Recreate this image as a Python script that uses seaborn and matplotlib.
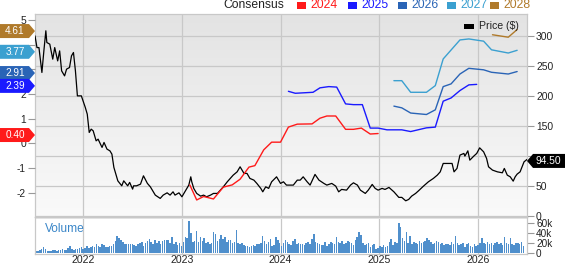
import numpy as np
import pandas as pd
import matplotlib
matplotlib.use("Agg")
import matplotlib.pyplot as plt
import seaborn as sns
from matplotlib.patches import Polygon, Rectangle
from matplotlib.colors import LinearSegmentedColormap

# ---------------- data ----------------
price_dates = [
    2021.51, 2021.53, 2021.55, 2021.58, 2021.60, 2021.62, 2021.63, 2021.66, 2021.69, 2021.71,
    2021.74, 2021.76, 2021.78, 2021.81, 2021.83, 2021.86, 2021.88, 2021.90, 2021.92, 2021.94,
    2021.98, 2022.02, 2022.04, 2022.06, 2022.08, 2022.10, 2022.13, 2022.15, 2022.19, 2022.21,
    2022.24, 2022.27, 2022.29, 2022.31, 2022.35, 2022.39, 2022.41, 2022.45, 2022.47, 2022.50,
    2022.51, 2022.54, 2022.58, 2022.61,
    2022.65, 2022.68, 2022.73, 2022.78, 2022.81, 2022.85, 2022.88, 2022.91, 2022.93, 2022.97,
    2023.00, 2023.03, 2023.07, 2023.09, 2023.10, 2023.12, 2023.15, 2023.19, 2023.22, 2023.25,
    2023.29, 2023.32, 2023.36, 2023.39, 2023.42, 2023.46, 2023.49, 2023.52, 2023.56, 2023.59,
    2023.63, 2023.66, 2023.69, 2023.73, 2023.76,
    2023.80, 2023.82, 2023.85, 2023.88, 2023.91, 2023.96, 2024.00, 2024.03, 2024.06, 2024.10,
    2024.13, 2024.17, 2024.20, 2024.23, 2024.27, 2024.30, 2024.35, 2024.39, 2024.44, 2024.47,
    2024.52, 2024.56, 2024.59, 2024.62, 2024.67, 2024.71, 2024.74, 2024.78, 2024.81, 2024.86,
    2024.89, 2024.93, 2024.96, 2024.99, 2025.03, 2025.06, 2025.10,
    2025.15, 2025.20, 2025.23, 2025.27, 2025.30, 2025.33, 2025.37, 2025.40, 2025.45, 2025.50,
    2025.55, 2025.59, 2025.62, 2025.65, 2025.69, 2025.74, 2025.76, 2025.79, 2025.82, 2025.86,
    2025.87, 2025.90, 2025.92, 2025.96, 2025.99, 2026.02, 2026.06, 2026.09, 2026.11, 2026.15,
    2026.20, 2026.25, 2026.27, 2026.30, 2026.33, 2026.36, 2026.38, 2026.40, 2026.43, 2026.47,
    2026.50,
]
price_values = [
    300.5, 281, 281, 239.5, 275.5, 309, 289.5, 286.7, 261.7, 281,
    258.8, 275.5, 242.2, 233.8, 245, 247.8, 267.2, 272.8, 242.2, 200.5,
    200.5, 181.2, 170, 139.5, 145, 142.2, 125.5, 128.3, 114.5, 122.8,
    111.7, 108.8, 103.3, 81.2, 58.8, 50.5, 58.8, 50.5, 56.2, 45,
    50.5, 50.5, 53.3, 67.2,
    54.5, 48.8, 35, 29.5, 35, 38.8, 35, 40.5, 35, 38.8,
    32.2, 40.5, 51.7, 65.5, 57.2, 46.2, 37.8, 33.3, 35, 32.2,
    35, 37.8, 37.8, 43.3, 48.8, 57.2, 62.8, 68.3, 73.8, 82.2,
    71.2, 71.2, 62.8, 60, 54.5,
    46.2, 40.5, 48.8, 46.2, 57.2, 65.5, 54.5, 57.2, 51.7, 51.7,
    51.7, 60, 60, 65.5, 57.2, 51.7, 69.5, 60, 54.5, 51.7,
    54.5, 50, 40.5, 44.5, 43.3, 51.7, 55.5, 51.7, 43.3, 37.8,
    43.3, 52.8, 46.2, 43.3, 46.2, 44.5, 47.8,
    40.5, 31.2, 31.2, 25.5, 27.8, 33.3, 37.8, 42.2, 50, 57.2,
    62.8, 68.3, 73.8, 87.8, 87.8, 87.8, 73.8, 79.5, 101.7, 104.5,
    100, 108.8, 93.3, 100, 104.5, 113.8, 107.2, 96.2, 82.2, 76.7,
    73.8, 72.2, 79.5, 68.3, 65.5, 58.3, 65.5, 70, 73.8, 90.5,
    94.5,
]

c2024_t = [2023.08, 2023.15, 2023.22, 2023.32, 2023.42, 2023.51, 2023.59, 2023.68, 2023.74, 2023.83,
           2023.91, 2024.00, 2024.08, 2024.17, 2024.32, 2024.40, 2024.47, 2024.56, 2024.66, 2024.74,
           2024.82, 2024.91, 2024.99]
c2024_v = [-1.68, -2.29, -2.15, -2.25, -1.77, -1.68, -1.45, -0.96, -0.90, -0.26,
           0.05, 0.05, 0.66, 0.78, 0.79, 1.02, 1.11, 1.11, 0.57, 0.57,
           0.62, 0.38, 0.40]
c2025_t = [2024.08, 2024.15, 2024.33, 2024.40, 2024.49, 2024.57, 2024.66, 2024.74, 2024.83, 2024.91,
           2024.99, 2025.08, 2025.23, 2025.32, 2025.48, 2025.57, 2025.65, 2025.73, 2025.82, 2025.91,
           2025.99]
c2025_v = [2.11, 2.03, 2.07, 2.25, 2.30, 2.28, 1.60, 1.57, 1.57, 0.62,
           0.62, 0.55, 0.55, 0.48, 0.63, 0.66, 1.71, 1.84, 2.14, 2.37,
           2.39]
c2026_t = [2025.15, 2025.23, 2025.32, 2025.48, 2025.57, 2025.65, 2025.73, 2025.82, 2025.91, 2026.06,
           2026.14, 2026.31, 2026.40]
c2026_v = [1.51, 1.44, 1.23, 1.17, 1.36, 2.30, 2.41, 2.81, 3.04, 2.98, 2.88, 2.81, 2.91]
c2027_t = [2025.15, 2025.23, 2025.32, 2025.48, 2025.57, 2025.65, 2025.82, 2025.91, 2026.06, 2026.14,
           2026.31, 2026.40]
c2027_v = [2.54, 2.54, 2.07, 2.07, 2.34, 3.42, 4.19, 4.23, 4.14, 3.79, 3.66, 3.77]
c2028_t = [2026.15, 2026.31, 2026.40]
c2028_v = [4.40, 4.30, 4.61]

consensus_years = ["2024", "2025", "2026", "2027", "2028"]
consensus_colors = ["#ff1a1a", "#1a1aff", "#2a64b6", "#3ba0d0", "#b07a2a"]
consensus_last = [0.40, 2.39, 2.91, 3.77, 4.61]
last_price = 94.50

volume_start = 2021.52
volume_k = [
    4, 5, 6, 9, 12, 8, 5, 4, 5, 6,
    6, 5, 7, 6, 8, 7, 6, 10, 15, 8,
    7, 9, 8, 10, 12, 9, 11, 14, 10, 12,
    15, 13, 18, 14, 12, 19, 16, 13, 12, 14,
    15, 18, 24, 35, 31, 26, 22, 18, 19, 18,
    18, 19, 16, 15, 18, 20, 22, 15, 20, 24,
    28, 22, 18, 26, 20, 24, 19, 24, 27, 27,
    26, 20, 32, 18, 22, 16, 20, 15, 22, 33,
    30, 65, 40, 22, 24, 45, 22, 33, 25, 30,
    20, 22, 18, 20, 43, 38, 24, 28, 36, 28,
    32, 22, 26, 26, 20, 22, 47, 20, 18, 20,
    16, 14, 15, 13, 15, 17, 14, 18, 18, 20,
    34, 24, 18, 22, 28, 14, 17, 33, 26, 20,
    15, 20, 26, 22, 18, 16, 24, 28, 18, 20,
    18, 18, 16, 20, 22, 18, 28, 39, 22, 20,
    18, 16, 17, 22, 14, 18, 22, 20, 18, 33,
    22, 20, 25, 18, 20, 24, 22, 20, 16, 26,
    32, 43, 36, 20, 16, 18, 20, 12, 16, 18,
    8, 10, 14, 12, 16, 12, 15, 22, 28, 16,
    22, 20, 60, 52, 30, 24, 43, 20, 34, 18,
    22, 20, 18, 24, 20, 22, 24, 30, 26, 22,
    18, 20, 24, 22, 18, 20, 16, 18, 18, 16,
    22, 18, 35, 20, 16, 18, 20, 12, 18, 20,
    14, 12, 18, 14, 16, 20, 30, 20, 18, 22,
    18, 20, 16, 20, 22, 18, 20, 16, 32, 20,
    18, 30, 18, 16, 20, 20, 18, 22, 14,
]
volume_dates = [volume_start + i / 52.18 for i in range(len(volume_k))]

year_ticks = [2022, 2023, 2024, 2025, 2026]
price_ticks = [0, 50, 100, 150, 200, 250, 300]
price_labels = ["0", "50", "", "150", "200", "250", "300"]   # 100 hidden under price tag
eps_ticks = [-2, -1, 0, 1, 2, 3, 4, 5]
eps_labels = ["-2", "-1", "0", "1", "2", "", "", "5"]        # 3, 4 hidden under tags
vol_ticks = [0, 20, 40, 60]
vol_labels = ["0", "20k", "40k", "60k"]

# ---------------- style ----------------
sns.set_style("white")
plt.rcParams['font.family'] = ['Liberation Sans', 'DejaVu Sans']

W, H = 568, 264
fig = plt.figure(figsize=(W / 100, H / 100), dpi=100)
fig.patch.set_facecolor("white")


def box(l, t, r, b):
    return [l / W, 1 - b / H, (r - l) / W, (b - t) / H]


def fp(x, y):
    return (x / W, 1 - y / H)


GRID = "#c8c8c8"
TXT = "#222222"

ax = fig.add_axes(box(35, 14, 527, 217))
axv = fig.add_axes(box(35, 217, 527, 254))

# gradient background
cmap = LinearSegmentedColormap.from_list("bg", ["#e3e3e3", "#fafafa"])
ax.imshow(np.linspace(0, 1, 256)[:, None], cmap=cmap, extent=[0, 1, 0, 1],
          transform=ax.transAxes, aspect="auto", zorder=0)

# price line (right axis)
dfp = pd.DataFrame({"date": price_dates, "price": price_values})
sns.lineplot(data=dfp, x="date", y="price", ax=ax, color="black", lw=0.9, zorder=3)

# EPS consensus (left axis)
ax2 = ax.twinx()
series = [(c2024_t, c2024_v), (c2025_t, c2025_v), (c2026_t, c2026_v),
          (c2027_t, c2027_v), (c2028_t, c2028_v)]
for (t, v), col in zip(series, consensus_colors):
    sns.lineplot(x=t, y=v, ax=ax2, color=col, lw=1.0)

ax.set_xlim(2021.51, 2026.50)
ax.set_ylim(-1.5, 337)
ax.set_yticks(price_ticks)
ax.set_yticklabels(price_labels)
ax.set_xticks(year_ticks)
ax.tick_params(axis="x", length=0, labelbottom=False)
ax.tick_params(axis="y", which="both", left=False, labelleft=False, right=True,
               labelright=True, length=5, width=0.8, color="#999999", labelsize=7.4,
               labelcolor=TXT, pad=1.5)
ax.grid(True, color=GRID, lw=0.9)
ax.set_xlabel("")
ax.set_ylabel("")
for s in ax.spines.values():
    s.set_color(GRID)
    s.set_linewidth(0.9)

ax2.set_ylim(-2.98, 5.24)
ax2.set_xlim(2021.51, 2026.50)
ax2.set_yticks(eps_ticks)
ax2.set_yticklabels(eps_labels)
ax2.tick_params(axis="y", which="both", left=True, labelleft=True, right=False,
                labelright=False, length=5, width=0.8, color="#999999", labelsize=7.4,
                labelcolor=TXT, pad=1.5)
ax2.set_ylabel("")
for s in ax2.spines.values():
    s.set_visible(False)

# volume panel
axv.bar(volume_dates, volume_k, width=0.8 / 52.18, color="#4f8fcc", lw=0, zorder=2)
axv.set_xlim(2021.51, 2026.50)
axv.set_ylim(-1.4, 72.6)
axv.axhspan(68.5, 72.6, color="#e6e6e6", lw=0, zorder=1)
axv.set_yticks(vol_ticks)
axv.set_yticklabels(vol_labels)
axv.set_xticks(year_ticks)
axv.set_xticklabels([str(y) for y in year_ticks])
axv.tick_params(axis="x", length=0, labelsize=7.6, labelcolor=TXT, pad=1)
axv.tick_params(axis="y", left=False, labelleft=False, right=True, labelright=True,
                length=5, width=0.8, color="#999999", labelsize=7.2,
                labelcolor=TXT, pad=1.5)
axv.grid(True, axis="x", color=GRID, lw=0.9)
axv.set_facecolor("white")
for s in axv.spines.values():
    s.set_color(GRID)
    s.set_linewidth(0.9)
axv.text(0.02, 0.68, "Volume", transform=axv.transAxes, color="#3a86c8",
         fontsize=8.6, va="center", ha="left")

# left value tags
for val, col in zip(consensus_last[::-1], consensus_colors[::-1]):
    yd = ax2.transData.transform((0, val))[1]
    yc = H - yd + 1.5
    pts = [fp(0, yc - 7), fp(29, yc - 7), fp(35, yc), fp(29, yc + 7), fp(0, yc + 7)]
    fig.add_artist(Polygon(pts, closed=True, transform=fig.transFigure,
                           fc=col, ec="none", zorder=5))
    fig.text(15 / W, 1 - yc / H, f"{val:.2f}", color="white", fontsize=7.2,
             ha="center", va="center", zorder=6)

# right price tag
yd = ax.transData.transform((0, last_price))[1]
yc = H - yd + 1.5
pts = [fp(527, yc), fp(533, yc - 7), fp(565, yc - 7), fp(565, yc + 7), fp(533, yc + 7)]
fig.add_artist(Polygon(pts, closed=True, transform=fig.transFigure,
                       fc="black", ec="none", zorder=5))
fig.text(548.5 / W, 1 - yc / H, f"{last_price:.2f}", color="white", fontsize=7.4,
         ha="center", va="center", zorder=6)

# top consensus legend
fig.text(223 / W, 1 - 5.5 / H, "Consensus", color=TXT, fontsize=8.7,
         ha="left", va="center")
leg_x = [297, 348, 398, 447, 490]
for x0, yr, col in zip(leg_x, consensus_years, consensus_colors):
    fig.add_artist(Rectangle(fp(x0, 9), 9 / W, 7 / H, transform=fig.transFigure,
                             fc=col, ec="none"))
    fig.text((x0 + 13) / W, 1 - 5.5 / H, yr, color=col, fontsize=8.7,
             ha="left", va="center")

# price legend
fig.add_artist(Rectangle(fp(464, 28.5), 10 / W, 5 / H, transform=fig.transFigure,
                         fc="black", ec="none", zorder=5))
fig.text(479 / W, 1 - 26 / H, "Price ($)", color=TXT, fontsize=7.6,
         ha="left", va="center", zorder=6)

fig.savefig("out.png", dpi=100)
